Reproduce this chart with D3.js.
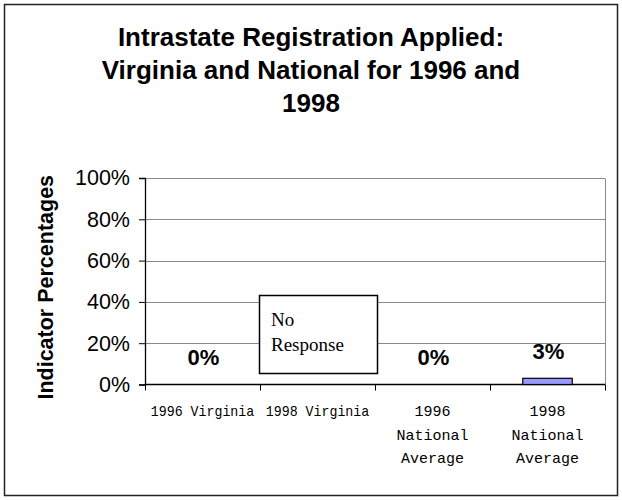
<!DOCTYPE html>
<html>
<head>
<meta charset="utf-8">
<script src="https://cdn.jsdelivr.net/npm/d3@7"></script>
<style>
  body { margin: 0; background: #fff; }
  svg { display: block; }
</style>
</head>
<body>
<div id="chart"></div>
<script>
// data
const categories = ["1996 Virginia", "1998 Virginia", "1996 National Average", "1998 National Average"];
const categoryLines = [["1996 Virginia"], ["1998 Virginia"], ["1996", "National", "Average"], ["1998", "National", "Average"]];
const values = [0, null, 0, 3];          // null = no response
const yTicks = [0, 20, 40, 60, 80, 100];
const titleLines = ["Intrastate Registration Applied:", "Virginia and National for 1996 and", "1998"];
const noResponseLines = ["No", "Response"];

const W = 622, H = 500;
const margin = { top: 178, right: 17, bottom: 115.5, left: 145 };
const width = W - margin.left - margin.right;
const height = H - margin.top - margin.bottom;

const svg = d3.select("#chart").append("svg")
    .attr("width", W)
    .attr("height", H);

// outer frame
svg.append("rect")
    .attr("x", 4.5).attr("y", 4.5)
    .attr("width", W - 9).attr("height", H - 9)
    .attr("fill", "#fff")
    .attr("stroke", "#222")
    .attr("stroke-width", 1.5);

// title
svg.append("text")
    .attr("text-anchor", "middle")
    .style("font-family", "Arial, 'Liberation Sans', sans-serif")
    .style("font-weight", "bold")
    .style("font-size", "26px")
    .selectAll("tspan")
    .data(titleLines)
    .enter()
    .append("tspan")
    .attr("x", W / 2)
    .attr("y", (d, i) => 46 + i * 33)
    .text(d => d);

const g = svg.append("g")
    .attr("transform", `translate(${margin.left}, ${margin.top})`);

const x = d3.scaleBand()
    .domain(categories)
    .range([0, width]);

const y = d3.scaleLinear()
    .domain([0, 100])
    .range([height, 0]);

// gridlines
g.selectAll(".grid")
    .data(yTicks.filter(d => d > 0))
    .enter()
    .append("line")
    .attr("x1", 0).attr("x2", width)
    .attr("y1", d => Math.round(y(d)) + 0.5)
    .attr("y2", d => Math.round(y(d)) + 0.5)
    .attr("stroke", "#8a8a8a")
    .attr("stroke-width", 1);

// right edge of plot area
g.append("line")
    .attr("x1", width + 0.5).attr("x2", width + 0.5)
    .attr("y1", Math.round(y(100)) + 0.5).attr("y2", height)
    .attr("stroke", "#8a8a8a");

// y axis
const yAxis = g.append("g")
    .call(d3.axisLeft(y)
        .tickValues(yTicks)
        .tickFormat(d => d + "%")
        .tickSize(6)
        .tickPadding(9));
yAxis.select(".domain").attr("stroke", "#000").attr("stroke-width", 1.3);
yAxis.selectAll(".tick line").attr("stroke", "#000");
yAxis.selectAll("text")
    .style("font-family", "Arial, 'Liberation Sans', sans-serif")
    .style("font-size", "21.5px")
    .attr("fill", "#000");

// x axis line and category tick marks
g.append("line")
    .attr("x1", 0).attr("x2", width)
    .attr("y1", height).attr("y2", height)
    .attr("stroke", "#000")
    .attr("stroke-width", 1.3);

const boundaries = categories.map(c => x(c)).concat([x(categories[categories.length - 1]) + x.bandwidth()]);
g.selectAll(".xtick")
    .data(boundaries)
    .enter()
    .append("line")
    .attr("x1", d => Math.round(d) + 0.5).attr("x2", d => Math.round(d) + 0.5)
    .attr("y1", height).attr("y2", height + 6)
    .attr("stroke", "#000");

// category labels
const xLabels = g.selectAll(".xlabel")
    .data(categories)
    .enter()
    .append("text")
    .attr("text-anchor", "middle")
    .style("font-family", "'Liberation Mono', 'Courier New', monospace")
    .style("font-size", "15px")
    .attr("fill", "#000");

xLabels.selectAll("tspan")
    .data((d, i) => categoryLines[i].map(t => ({ t, c: d })))
    .enter()
    .append("tspan")
    .attr("x", d => x(d.c) + x.bandwidth() / 2)
    .attr("y", (d, i) => height + 31.5 + i * 23.5)
    .text(d => d.t)
    .each(function() {
        const len = this.getComputedTextLength();
        if (len > x.bandwidth() * 0.9) {
            d3.select(this)
                .attr("textLength", x.bandwidth() * 0.9)
                .attr("lengthAdjust", "spacingAndGlyphs");
        }
    });

// bars
const barWidth = x.bandwidth() * 0.43;
g.selectAll(".bar")
    .data(categories.map((c, i) => ({ c, v: values[i] })).filter(d => d.v !== null))
    .enter()
    .append("rect")
    .attr("class", "bar")
    .attr("x", d => x(d.c) + (x.bandwidth() - barWidth) / 2)
    .attr("y", d => y(d.v))
    .attr("width", barWidth)
    .attr("height", d => height - y(d.v))
    .attr("fill", "#9999ff")
    .attr("stroke", "#000")
    .attr("stroke-width", 1.2);

// value labels
g.selectAll(".value")
    .data(categories.map((c, i) => ({ c, v: values[i] })).filter(d => d.v !== null))
    .enter()
    .append("text")
    .attr("x", d => x(d.c) + x.bandwidth() / 2 + 1)
    .attr("y", d => y(d.v) - 19.5)
    .attr("text-anchor", "middle")
    .style("font-family", "Arial, 'Liberation Sans', sans-serif")
    .style("font-weight", "bold")
    .style("font-size", "22px")
    .text(d => d.v + "%");

// "No Response" box for the missing value
const missing = categories.filter((c, i) => values[i] === null);
missing.forEach(c => {
    const bx = x(c) - 1;
    const by = y(43.3);
    const bw = x.bandwidth() + 3;
    const bh = y(5.6) - y(43.3);
    g.append("rect")
        .attr("x", Math.round(bx) + 0.5)
        .attr("y", Math.round(by) + 0.5)
        .attr("width", Math.round(bw))
        .attr("height", Math.round(bh))
        .attr("fill", "#fff")
        .attr("stroke", "#000")
        .attr("stroke-width", 1.5);
    g.append("text")
        .style("font-family", "'Liberation Serif', 'Times New Roman', serif")
        .style("font-size", "19px")
        .selectAll("tspan")
        .data(noResponseLines)
        .enter()
        .append("tspan")
        .attr("x", bx + 12)
        .attr("y", (d, i) => by + 31 + i * 25)
        .text(d => d);
});

// y axis title
svg.append("text")
    .attr("transform", `translate(53, ${margin.top + height / 2 + 6}) rotate(-90)`)
    .attr("text-anchor", "middle")
    .style("font-family", "Arial, 'Liberation Sans', sans-serif")
    .style("font-weight", "bold")
    .style("font-size", "21.5px")
    .text("Indicator Percentages");
</script>
</body>
</html>
